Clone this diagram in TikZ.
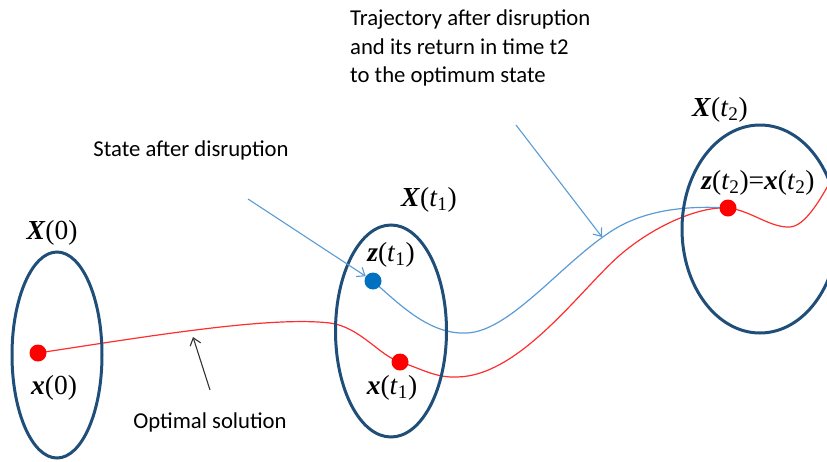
\documentclass[tikz,border=0pt]{standalone}
\usepackage{fontspec}
\setmainfont{Carlito}
\newfontfamily\tnr{Liberation Serif}
\usetikzlibrary{shapes.geometric, arrows.meta, backgrounds}
\definecolor{setblue}{RGB}{31,78,121}
\definecolor{trajblue}{RGB}{91,155,213}
\definecolor{dotblue}{RGB}{0,112,192}
\definecolor{optred}{RGB}{255,45,45}
\tikzstyle{region} = [ellipse, draw=setblue, line width=3pt, inner sep=0pt]
\tikzstyle{state} = [circle, inner sep=0pt, minimum size=17pt]
\tikzstyle{lbl} = [font=\tnr\fontsize{27.5}{30}\selectfont, inner sep=0pt]
\tikzstyle{note} = [font=\fontsize{22.7}{28.5}\selectfont, align=left, inner sep=0pt]
\tikzstyle{pointer} = [line width=1.1pt, -{Straight Barb[length=7pt,width=11pt]}]
\tikzstyle{path} = [line width=1.2pt]

\begin{document}
\begin{tikzpicture}[x=1pt, y=-1pt]
  \useasboundingbox (0,0) rectangle (827,461);

  % Sets
  \node[region, minimum width=90pt, minimum height=206pt] (set0) at (57,355) {};
  \node[region, minimum width=111pt, minimum height=212pt] (set1) at (391,331) {};
  \node[region, minimum width=156pt, minimum height=208pt] (set2) at (760,229) {};

  % States
  \node[state, fill=red] (x0) at (38,353) {};
  \node[state, fill=dotblue] (zt1) at (373,281) {};
  \node[state, fill=red] (xt1) at (400,362) {};
  \node[state, fill=red] (xt2) at (728,208) {};
  \coordinate (xend) at (830,182);

  % Labels
  \node[lbl] (lX0) at (52,233) {\textbf{\textit{X}}(0)};
  \node[lbl] (lx0) at (54,388) {\textbf{\textit{x}}(0)};
  \node[lbl] (lX1) at (429,200) {\textbf{\textit{X}}(\textit{t}\textsubscript{1})};
  \node[lbl] (lz1) at (391,255) {\textbf{\textit{z}}(\textit{t}\textsubscript{1})};
  \node[lbl] (lx1) at (392,388) {\textbf{\textit{x}}(\textit{t}\textsubscript{1})};
  \node[lbl] (lX2) at (720,110) {\textbf{\textit{X}}(\textit{t}\textsubscript{2})};
  \node[lbl] (lz2) at (758,183) {\textbf{\textit{z}}(\textit{t}\textsubscript{2})=\textbf{\textit{x}}(\textit{t}\textsubscript{2})};

  % Notes
  \node[note] (nstate) at (191,150) {State after disruption};
  \node[note, anchor=west] (ntraj) at (350,48) {Trajectory after disruption\\and its return in time t2\\to the optimum state};
  \node[note] (nopt) at (210,422) {Optimal solution};

  % Trajectories
  \begin{scope}[on background layer]
    \draw[path, optred] (x0.center) .. controls (150,336) and (270,316) .. (330,323)
      .. controls (360,327) and (380,356) .. (xt1.center)
      .. controls (420,368) and (435,378) .. (457,377)
      .. controls (520,376) and (580,290) .. (620,255)
      .. controls (655,225) and (700,206) .. (xt2.center)
      .. controls (750,210) and (770,228) .. (790,227)
      .. controls (805,226) and (820,200) .. (xend);
    \draw[path, trajblue] (zt1.center) .. controls (400,305) and (430,335) .. (467,333)
      .. controls (510,331) and (560,265) .. (610,232)
      .. controls (640,212) and (680,205) .. (xt2.center);
  \end{scope}

  % Pointers
  \coordinate (pstate) at (248,199);
  \coordinate (ptraj) at (516,125);
  \coordinate (ttraj) at (602,237);
  \coordinate (popt) at (210,390);
  \coordinate (topt) at (193,337);
  \draw[pointer, trajblue] (pstate) -- (zt1);
  \draw[pointer, trajblue] (ptraj) -- (ttraj);
  \draw[pointer, black!80] (popt) -- (topt);
\end{tikzpicture}
\end{document}
